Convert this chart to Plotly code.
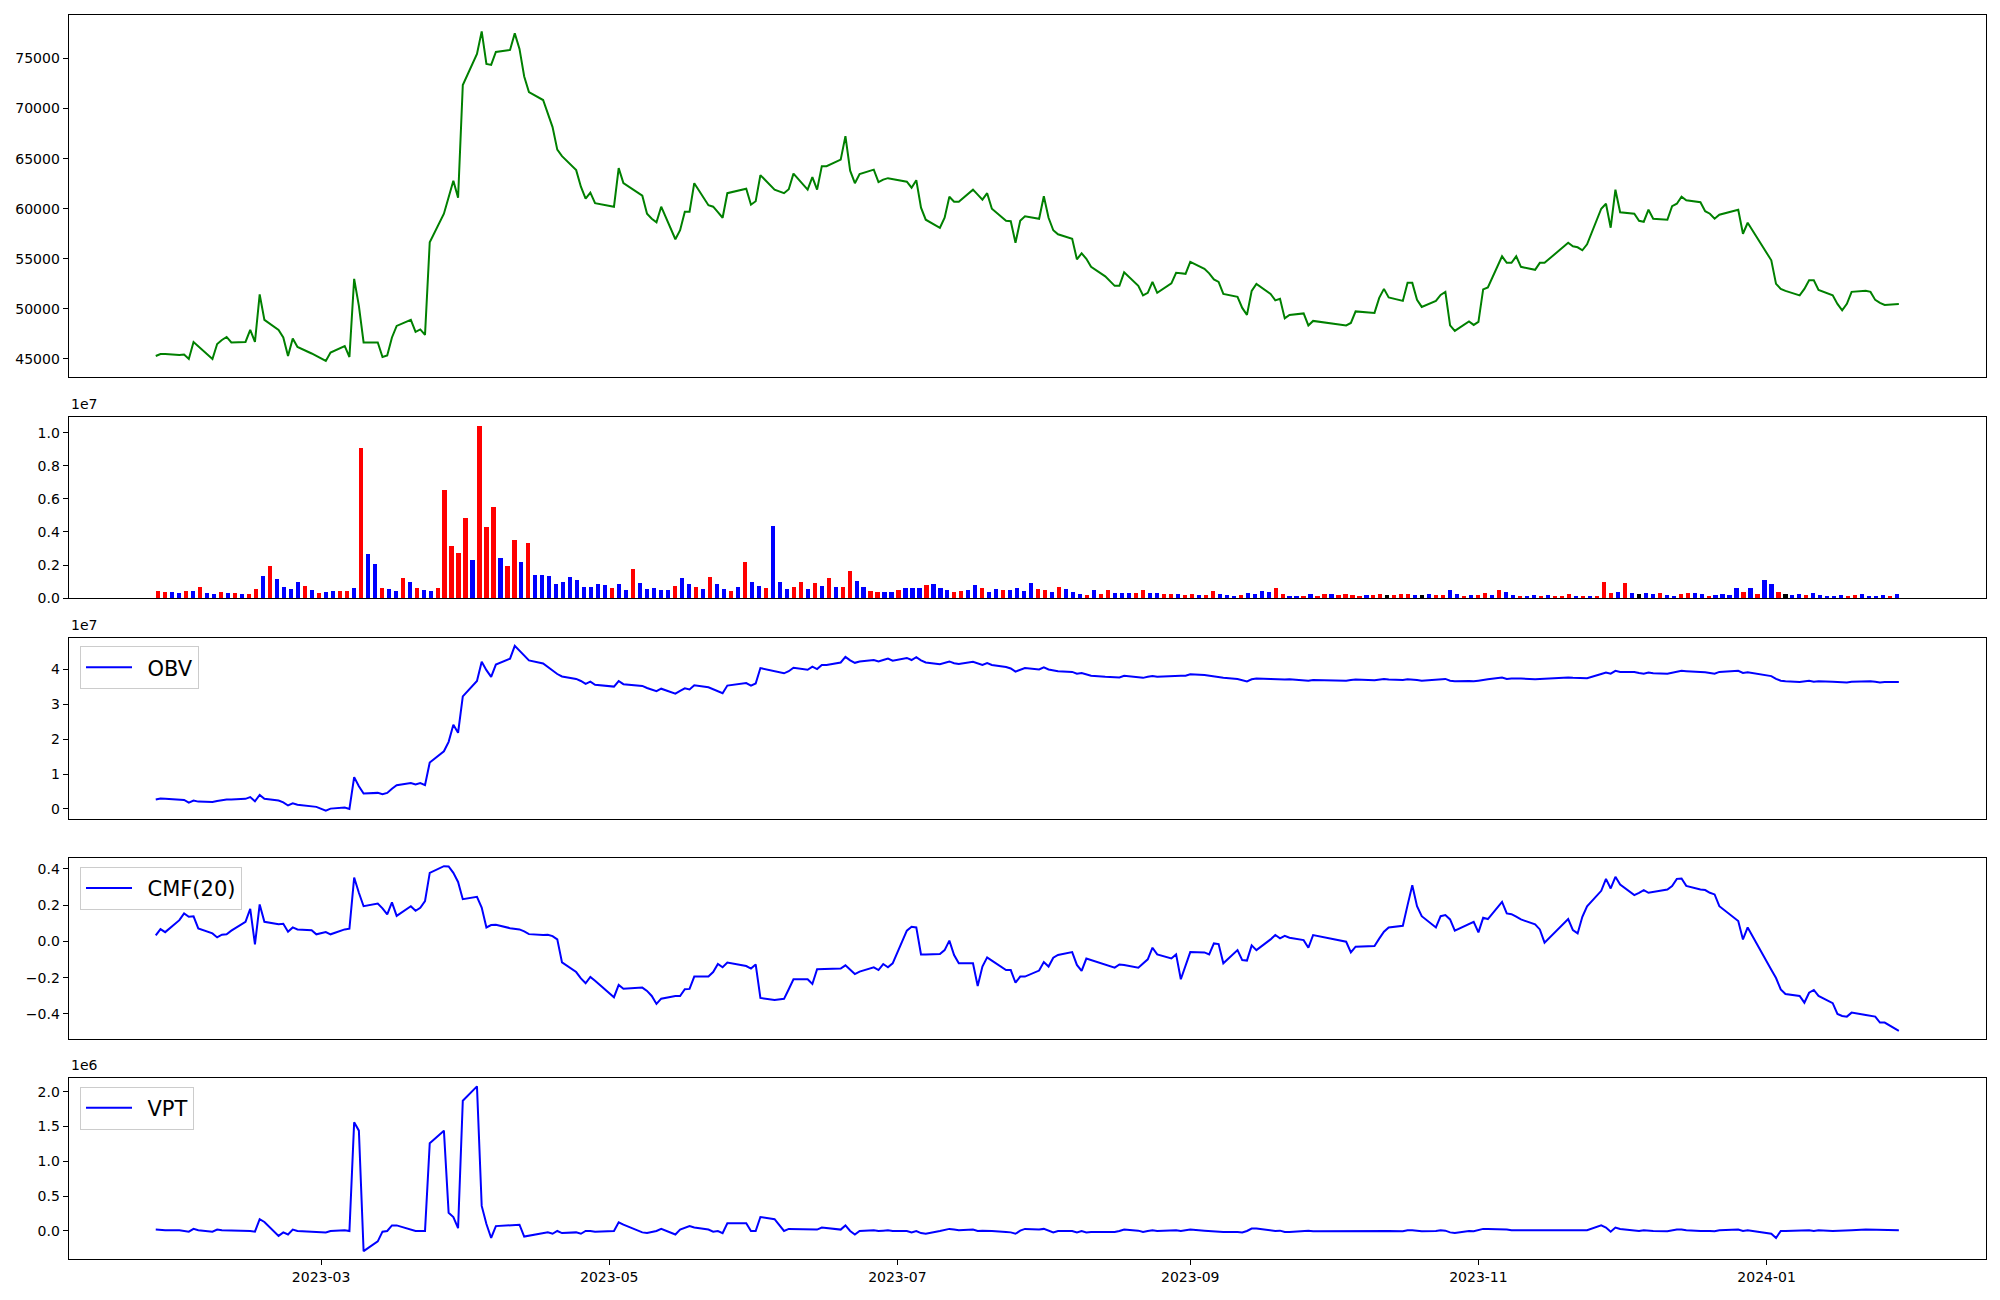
import pandas as pd
import plotly.graph_objects as go

# ---------------- data ----------------
start_date = "2023-01-25"
end_date = "2024-01-29"
market_holidays = ["2023-03-01", "2023-05-01", "2023-05-05", "2023-05-29", "2023-06-06",
                   "2023-08-15", "2023-09-28", "2023-09-29", "2023-10-02", "2023-10-03",
                   "2023-10-09", "2023-12-25", "2023-12-29", "2024-01-01"]

close = [
    45300, 45500, 45500, 45400, 45450, 45000, 46700, 46250, 45000, 46500,
    46900, 47200, 46650, 46700, 47900, 46700, 51450, 48900, 47900, 47150,
    45300, 47050, 46200, 45550, 45300, 44800, 45650, 46300, 45200, 53000,
    50300, 46650, 46650, 45200, 45350, 47150, 48300, 48900, 47700, 47950,
    47400, 56650, 59500, 61250, 62800, 61100, 72350, 75450, 77700, 74450,
    74350, 75650, 75850, 77500, 75950, 73200, 71650, 70850, 69450, 68150,
    65900, 65250, 63850, 62200, 61000, 61600, 60550, 60200, 64050, 62550,
    61300, 59500, 59000, 58650, 60200, 56950, 57850, 59700, 59700, 62550,
    60350, 60200, 59650, 59100, 61550, 62000, 60400, 60750, 63350, 61900,
    61550, 61950, 63500, 61900, 63150, 61900, 64250, 64250, 64900, 67250,
    63800, 62550, 63450, 63900, 62650, 62900, 63050, 62950, 62700, 62100,
    62850, 60100, 58900, 58100, 59100, 61200, 60700, 60700, 61900, 61400,
    60900, 61550, 60000, 58800, 58750, 56600, 58800, 59250, 59000, 61250,
    59100, 57850, 57450, 57000, 54950, 55550, 55000, 54200, 53250, 52300,
    52300, 53650, 52300, 51350, 51600, 52700, 51600, 52550, 53600, 53550,
    53500, 54700, 54000, 53550, 52950, 52700, 51500, 51200, 50100, 49400,
    51800, 52500, 51500, 50850, 51000, 49050, 49400, 49550, 48350, 48800,
    48350, 48600, 49750, 49600, 51100, 52000, 51150, 50800, 52600, 52600,
    50900, 50200, 50800, 51400, 51700, 48350, 47800, 48750, 48400, 48700,
    51950, 52150, 55250, 54600, 54600, 55250, 54200, 53900, 54600, 54600,
    55000, 55350, 56600, 56250, 56150, 55850, 56450, 60000, 60500, 58100,
    61900, 59650, 59500, 58800, 58700, 59900, 59000, 58900, 60250, 60500,
    61200, 60850, 60650, 59750, 59500, 59000, 59400, 59900, 57500, 58600,
    54850, 52500, 52000, 51800, 51350, 52000, 52850, 52850, 51900, 51350,
    50500, 49850, 50500, 51700, 51800, 51700, 50900, 50600, 50400, 50500,
]

# volume in millions of shares
volume_m = [
    0.42, 0.36, 0.36, 0.30, 0.42, 0.42, 0.66, 0.30, 0.24, 0.36,
    0.30, 0.30, 0.24, 0.24, 0.54, 1.33, 1.93, 1.15, 0.66, 0.54,
    0.97, 0.72, 0.48, 0.30, 0.36, 0.42, 0.42, 0.42, 0.60, 9.05,
    2.66, 2.05, 0.60, 0.54, 0.42, 1.21, 0.97, 0.60, 0.48, 0.42,
    0.60, 6.52, 3.12, 2.70, 4.83, 2.29, 10.40, 4.29, 5.49, 2.41,
    1.93, 3.50, 2.17, 3.32, 1.39, 1.39, 1.33, 0.85, 0.97, 1.27,
    1.09, 0.66, 0.66, 0.85, 0.78, 0.60, 0.85, 0.48, 1.75, 0.91,
    0.54, 0.60, 0.48, 0.48, 0.72, 1.21, 0.85, 0.66, 0.54, 1.27,
    0.85, 0.54, 0.42, 0.66, 2.17, 0.97, 0.72, 0.60, 4.35, 0.97,
    0.54, 0.66, 0.97, 0.54, 0.91, 0.72, 1.21, 0.66, 0.66, 1.63,
    1.03, 0.66, 0.42, 0.36, 0.36, 0.36, 0.48, 0.60, 0.60, 0.60,
    0.78, 0.85, 0.60, 0.48, 0.36, 0.42, 0.48, 0.78, 0.60, 0.36,
    0.54, 0.48, 0.48, 0.60, 0.42, 0.91, 0.54, 0.48, 0.36, 0.66,
    0.54, 0.36, 0.24, 0.18, 0.48, 0.24, 0.48, 0.30, 0.30, 0.30,
    0.30, 0.48, 0.30, 0.30, 0.24, 0.24, 0.24, 0.18, 0.24, 0.18,
    0.18, 0.42, 0.24, 0.18, 0.12, 0.18, 0.30, 0.24, 0.42, 0.36,
    0.60, 0.24, 0.12, 0.12, 0.12, 0.24, 0.12, 0.24, 0.24, 0.18,
    0.24, 0.18, 0.12, 0.18, 0.18, 0.24, 0.18, 0.18, 0.24, 0.24,
    0.18, 0.18, 0.24, 0.18, 0.18, 0.48, 0.24, 0.12, 0.18, 0.18,
    0.30, 0.18, 0.48, 0.36, 0.18, 0.12, 0.12, 0.18, 0.12, 0.18,
    0.12, 0.12, 0.24, 0.12, 0.12, 0.12, 0.12, 0.97, 0.30, 0.36,
    0.91, 0.30, 0.24, 0.30, 0.24, 0.30, 0.18, 0.12, 0.24, 0.30,
    0.30, 0.24, 0.12, 0.18, 0.24, 0.18, 0.60, 0.36, 0.60, 0.24,
    1.09, 0.85, 0.36, 0.24, 0.18, 0.24, 0.18, 0.30, 0.18, 0.12,
    0.12, 0.18, 0.12, 0.18, 0.24, 0.12, 0.12, 0.18, 0.12, 0.24,
]

# candle direction per day: "+" close above open, "-" below, "0" unchanged
candle_dir = (
    "++--+-+--+" "-+-++-+---" "-+-+--++-+" "--+--+-+--" "+++++-+++-"
    "++-+------" "-----+--+-" "----+--+-+" "--+-+--+--" "-++-+-+-++"
    "--++--+---" "+---++--+-" "-+----++-+" "---+-++---" "++--++-++-"
    "++---+----" "++--+-++-+" "+++-++0+++" "-0-++--+-+" "+-+--+--+-"
    "+++-+-+++-" "+-0--+--++" "--+----+-+" "--+0--+---" "--++----+-"
)

# OBV in units of 1e7
obv_e7 = [
    0.27, 0.30, 0.29, 0.28, 0.26, 0.18, 0.24, 0.21, 0.20, 0.23,
    0.26, 0.27, 0.27, 0.29, 0.34, 0.22, 0.40, 0.29, 0.24, 0.19,
    0.10, 0.16, 0.12, 0.09, 0.06, -0.05, 0.01, 0.04, 0.00, 0.91,
    0.65, 0.44, 0.46, 0.42, 0.46, 0.58, 0.68, 0.74, 0.70, 0.74,
    0.68, 1.33, 1.65, 1.92, 2.41, 2.18, 3.22, 3.66, 4.21, 3.97,
    3.78, 4.13, 4.30, 4.664, 4.52, 4.38, 4.25, 4.16, 4.06, 3.96,
    3.86, 3.79, 3.72, 3.66, 3.58, 3.64, 3.55, 3.50, 3.66, 3.57,
    3.52, 3.46, 3.41, 3.37, 3.44, 3.30, 3.38, 3.45, 3.42, 3.54,
    3.48, 3.43, 3.38, 3.31, 3.53, 3.60, 3.53, 3.59, 4.03, 3.93,
    3.88, 3.94, 4.04, 3.98, 4.07, 4.00, 4.12, 4.12, 4.19, 4.35,
    4.25, 4.18, 4.22, 4.26, 4.22, 4.26, 4.30, 4.24, 4.32, 4.26,
    4.34, 4.25, 4.19, 4.14, 4.18, 4.22, 4.17, 4.15, 4.21, 4.17,
    4.12, 4.17, 4.12, 4.06, 4.02, 3.93, 3.98, 4.03, 3.99, 4.05,
    3.99, 3.96, 3.94, 3.92, 3.87, 3.89, 3.84, 3.81, 3.78, 3.76,
    3.76, 3.81, 3.78, 3.75, 3.78, 3.80, 3.78, 3.80, 3.82, 3.81,
    3.81, 3.85, 3.83, 3.81, 3.80, 3.78, 3.75, 3.72, 3.69, 3.65,
    3.71, 3.73, 3.72, 3.71, 3.72, 3.70, 3.71, 3.69, 3.67, 3.69,
    3.67, 3.69, 3.70, 3.68, 3.70, 3.72, 3.70, 3.69, 3.71, 3.71,
    3.69, 3.67, 3.69, 3.70, 3.72, 3.67, 3.65, 3.66, 3.65, 3.67,
    3.70, 3.71, 3.76, 3.72, 3.73, 3.74, 3.73, 3.71, 3.72, 3.72,
    3.73, 3.74, 3.76, 3.75, 3.74, 3.73, 3.74, 3.86, 3.90, 3.87,
    3.95, 3.92, 3.92, 3.89, 3.87, 3.90, 3.88, 3.87, 3.89, 3.92,
    3.95, 3.94, 3.93, 3.91, 3.89, 3.87, 3.92, 3.95, 3.89, 3.91,
    3.80, 3.72, 3.67, 3.65, 3.63, 3.65, 3.67, 3.64, 3.65, 3.64,
    3.63, 3.61, 3.62, 3.64, 3.66, 3.65, 3.64, 3.62, 3.63, 3.63,
]

cmf20 = [
    0.033, 0.068, 0.051, 0.117, 0.154, 0.136, 0.138, 0.072, 0.044, 0.022,
    0.037, 0.039, 0.059, 0.108, 0.180, -0.017, 0.204, 0.108, 0.094, 0.097,
    0.053, 0.077, 0.066, 0.062, 0.039, 0.051, 0.039, 0.066, 0.070, 0.352,
    0.268, 0.194, 0.209, 0.182, 0.149, 0.215, 0.141, 0.194, 0.169, 0.185,
    0.222, 0.378, 0.415, 0.413, 0.378, 0.328, 0.233, 0.246, 0.187, 0.077,
    0.090, 0.092, 0.073, 0.070, 0.066, 0.055, 0.040, 0.035, 0.037, 0.029,
    0.011, -0.116, -0.169, -0.204, -0.231, -0.196, -0.217, -0.308, -0.240, -0.261,
    -0.255, -0.273, -0.301, -0.345, -0.316, -0.301, -0.301, -0.264, -0.262, -0.194,
    -0.194, -0.169, -0.125, -0.143, -0.117, -0.136, -0.150, -0.127, -0.312, -0.323,
    -0.317, -0.264, -0.209, -0.209, -0.235, -0.154, -0.154, -0.152, -0.150, -0.132,
    -0.158, -0.180, -0.167, -0.143, -0.158, -0.125, -0.143, -0.121, 0.059, 0.081,
    0.077, -0.072, -0.072, -0.070, -0.048, 0.004, -0.075, -0.121, -0.121, -0.246,
    -0.139, -0.088, -0.106, -0.158, -0.158, -0.228, -0.194, -0.194, -0.161, -0.114,
    -0.139, -0.090, -0.075, -0.059, -0.130, -0.163, -0.095, -0.103, -0.130, -0.145,
    -0.127, -0.130, -0.145, -0.121, -0.099, -0.035, -0.072, -0.094, -0.072, -0.209,
    -0.130, -0.059, -0.061, -0.072, -0.011, -0.015, -0.121, -0.048, -0.103, -0.106,
    -0.022, -0.048, 0.011, 0.035, 0.017, 0.031, 0.020, 0.007, -0.035, 0.035,
    -0.002, -0.061, -0.029, -0.026, 0.015, 0.053, 0.077, 0.086, 0.200, 0.310,
    0.194, 0.139, 0.077, 0.139, 0.145, 0.121, 0.059, 0.095, 0.108, 0.050,
    0.130, 0.123, 0.218, 0.154, 0.150, 0.136, 0.121, 0.094, 0.066, -0.007,
    0.020, 0.044, 0.123, 0.062, 0.044, 0.136, 0.194, 0.279, 0.345, 0.292,
    0.356, 0.314, 0.255, 0.268, 0.283, 0.268, 0.273, 0.286, 0.305, 0.345,
    0.347, 0.306, 0.286, 0.283, 0.268, 0.259, 0.194, 0.112, 0.011, 0.077,
    -0.156, -0.202, -0.265, -0.290, -0.301, -0.338, -0.283, -0.268, -0.301, -0.341,
    -0.400, -0.411, -0.415, -0.393, -0.406, -0.411, -0.415, -0.448, -0.448, -0.494,
]

# VPT in units of 1e6
vpt_e6 = [
    0.02, 0.01, 0.01, 0.01, 0.00, -0.01, 0.03, 0.01, -0.01, 0.02,
    0.01, 0.01, 0.00, 0.01, 0.00, -0.01, 0.17, 0.13, -0.07, -0.02,
    -0.05, 0.02, 0.00, -0.01, -0.01, -0.02, 0.00, 0.01, 0.00, 1.56,
    1.44, -0.29, -0.15, -0.01, 0.00, 0.08, 0.08, 0.02, 0.00, 0.00,
    0.00, 1.26, 1.44, 0.26, 0.20, 0.04, 1.87, 2.075, 0.36, 0.10,
    -0.10, 0.07, 0.08, 0.08, 0.09, -0.08, -0.07, -0.04, -0.02, -0.04,
    0.00, -0.03, -0.02, -0.04, 0.00, 0.00, -0.01, 0.00, 0.125, 0.09,
    -0.02, -0.03, -0.02, 0.00, 0.03, -0.05, 0.02, 0.04, 0.07, 0.05,
    0.02, -0.01, 0.00, -0.03, 0.11, 0.11, 0.00, 0.00, 0.20, 0.17,
    0.00, 0.03, 0.03, 0.02, 0.02, 0.02, 0.05, 0.04, 0.02, 0.08,
    0.00, -0.05, 0.00, 0.01, 0.00, 0.005, 0.01, 0.00, 0.00, -0.02,
    0.00, -0.03, -0.04, 0.00, 0.01, 0.03, 0.02, 0.01, 0.02, 0.00,
    0.005, 0.005, 0.00, -0.015, -0.02, -0.04, 0.005, 0.03, 0.02, 0.03,
    0.00, -0.02, 0.00, 0.00, -0.02, 0.00, -0.02, -0.015, -0.015, -0.015,
    0.00, 0.02, 0.005, -0.015, 0.00, 0.01, 0.00, 0.005, 0.01, 0.00,
    0.005, 0.02, 0.005, 0.00, 0.00, -0.01, -0.015, -0.015, -0.02, 0.00,
    0.034, 0.034, 0.01, 0.00, 0.005, -0.015, -0.015, 0.00, 0.005, -0.005,
    0.00, 0.005, -0.005, 0.00, 0.005, 0.01, 0.00, -0.005, 0.01, 0.01,
    0.00, -0.005, 0.00, 0.01, 0.005, -0.02, -0.03, 0.00, -0.005, 0.01,
    0.03, 0.03, 0.03, 0.02, 0.01, 0.01, 0.00, 0.005, 0.01, 0.00,
    0.00, 0.01, 0.01, 0.00, 0.005, 0.00, 0.01, 0.08, 0.05, -0.01,
    0.05, 0.03, 0.00, 0.00, 0.01, 0.01, 0.00, -0.005, 0.01, 0.02,
    0.02, 0.01, 0.00, 0.005, 0.00, -0.005, 0.01, 0.02, 0.00, 0.01,
    -0.04, -0.10, 0.00, 0.00, 0.005, 0.00, 0.01, 0.00, 0.01, 0.00,
    0.00, 0.01, 0.01, 0.01, 0.02, 0.02, 0.01, 0.01, 0.01, 0.01,
]

month_ticks = ["2023-03-01", "2023-05-01", "2023-07-01", "2023-09-01", "2023-11-01", "2024-01-01"]
month_labels = ["2023-03", "2023-05", "2023-07", "2023-09", "2023-11", "2024-01"]
vol_ticks = [0.0, 0.2, 0.4, 0.6, 0.8, 1.0]
obv_ticks = [0, 1, 2, 3, 4]
cmf_ticks = [-0.4, -0.2, 0.0, 0.2, 0.4]
vpt_ticks = [0.0, 0.5, 1.0, 1.5, 2.0]

# ---------------- build ----------------
bdays = pd.bdate_range(start_date, end_date)
dates = bdays[~bdays.isin(pd.to_datetime(market_holidays))]
n = min(len(dates), len(close))
dates = dates[:n]
idx = list(range(len(volume_m)))

volume = [v * 1e6 for v in volume_m]
obv = [v * 1e7 for v in obv_e7]
vpt = [v * 1e6 for v in vpt_e6]
col_map = {"+": "#ff0000", "-": "#0000ff", "0": "#000000"}
bar_colors = [col_map[c] for c in candle_dir]


def pad_range(vals, frac=0.05):
    lo, hi = min(vals), max(vals)
    p = (hi - lo) * frac
    return [lo - p, hi + p]


span = dates[-1] - dates[0]
date_range = [dates[0] - span * 0.05, dates[-1] + span * 0.05]
bw = 0.6
vspan = (idx[-1] + bw / 2) - (idx[0] - bw / 2)
vol_xrange = [idx[0] - bw / 2 - 0.05 * vspan, idx[-1] + bw / 2 + 0.05 * vspan]

W, H = 2000, 1300
left, right = 68.6 / W, 1986 / W


def vy(y):
    # vertical layout position, slightly stretched from the top edge
    return 15 + (y - 15) * 1.005


panels = [(15, 378), (418, 599), (638.5, 820), (859, 1040.5), (1079.5, 1261)]
doms = [[1 - vy(b) / H, 1 - vy(t) / H] for t, b in panels]

fig = go.Figure()
fig.add_trace(go.Scatter(x=dates, y=close[:n], mode="lines",
                         line=dict(color="#008000", width=2), xaxis="x", yaxis="y",
                         showlegend=False, hoverinfo="skip"))
fig.add_trace(go.Bar(x=idx, y=volume, marker=dict(color=bar_colors, line=dict(width=0)),
                     width=bw, xaxis="x2", yaxis="y2", showlegend=False))
fig.add_trace(go.Scatter(x=dates, y=obv[:n], mode="lines", name="\u2002OBV",
                         line=dict(color="#0000ff", width=2), xaxis="x3", yaxis="y3",
                         legend="legend"))
fig.add_trace(go.Scatter(x=dates, y=cmf20[:n], mode="lines", name="\u2002CMF(20)",
                         line=dict(color="#0000ff", width=2), xaxis="x4", yaxis="y4",
                         legend="legend2"))
fig.add_trace(go.Scatter(x=dates, y=vpt[:n], mode="lines", name="\u2002VPT",
                         line=dict(color="#0000ff", width=2), xaxis="x5", yaxis="y5",
                         legend="legend3"))

frame = dict(showline=True, linecolor="black", linewidth=1, mirror=True,
             showgrid=False, zeroline=False)
yt = dict(ticks="outside", ticklen=5, tickwidth=1, tickcolor="black",
          tickfont=dict(family="DejaVu Sans", size=14, color="black"))
nox = dict(showticklabels=False, ticks="")

lay = dict(
    width=W, height=H, margin=dict(l=0, r=0, t=0, b=0),
    paper_bgcolor="white", plot_bgcolor="white",
    font=dict(family="DejaVu Sans", size=14, color="black"),
    xaxis=dict(domain=[left, right], anchor="y", type="date", range=date_range, **frame, **nox),
    xaxis2=dict(domain=[left, right], anchor="y2", range=vol_xrange, **frame, **nox),
    xaxis3=dict(domain=[left, right], anchor="y3", type="date", range=date_range, **frame, **nox),
    xaxis4=dict(domain=[left, right], anchor="y4", type="date", range=date_range, **frame, **nox),
    xaxis5=dict(domain=[left, right], anchor="y5", type="date", range=date_range,
                tickvals=month_ticks, ticktext=month_labels, ticks="outside", ticklen=5,
                tickwidth=1, tickcolor="black",
                tickfont=dict(family="DejaVu Sans", size=14, color="black"), **frame),
    yaxis=dict(domain=doms[0], anchor="x", range=pad_range(close[:n]),
               tick0=0, dtick=5000, tickformat="d", **frame, **yt),
    yaxis2=dict(domain=doms[1], anchor="x2", range=[0, max(volume) * 1.05],
                tickvals=[t * 1e7 for t in vol_ticks], ticktext=[f"{t:.1f}" for t in vol_ticks],
                **frame, **yt),
    yaxis3=dict(domain=doms[2], anchor="x3", range=pad_range(obv[:n]),
                tickvals=[t * 1e7 for t in obv_ticks], ticktext=[str(t) for t in obv_ticks],
                **frame, **yt),
    yaxis4=dict(domain=doms[3], anchor="x4", range=pad_range(cmf20[:n]),
                tickvals=cmf_ticks, ticktext=[f"{t:.1f}".replace("-", "\u2212") for t in cmf_ticks],
                **frame, **yt),
    yaxis5=dict(domain=doms[4], anchor="x5", range=pad_range(vpt[:n]),
                tickvals=[t * 1e6 for t in vpt_ticks], ticktext=[f"{t:.1f}" for t in vpt_ticks],
                **frame, **yt),
    bargap=0,
)

leg = dict(xanchor="left", yanchor="top", bgcolor="rgba(255,255,255,0.8)",
           bordercolor="#cccccc", borderwidth=1, itemwidth=46,
           font=dict(family="DejaVu Sans", size=21, color="black"))
lay["legend"] = dict(x=80 / W, y=1 - vy(647) / H, **leg)
lay["legend2"] = dict(x=80 / W, y=1 - vy(868) / H, **leg)
lay["legend3"] = dict(x=80 / W, y=1 - vy(1088) / H, **leg)

fig.update_layout(**lay)

for txt, top in [("1e7", panels[1][0]), ("1e7", panels[2][0]), ("1e6", panels[4][0])]:
    fig.add_annotation(text=txt, x=left, y=1 - (vy(top) - 3) / H, xref="paper", yref="paper",
                       xanchor="left", yanchor="bottom", showarrow=False,
                       font=dict(family="DejaVu Sans", size=14, color="black"))

page_css = ("document.documentElement.style.margin='0';document.body.style.margin='0';"
            "document.documentElement.style.overflow='hidden';document.body.style.overflow='hidden';")
fig.write_html("out.html", post_script=page_css, config={"displayModeBar": False})
